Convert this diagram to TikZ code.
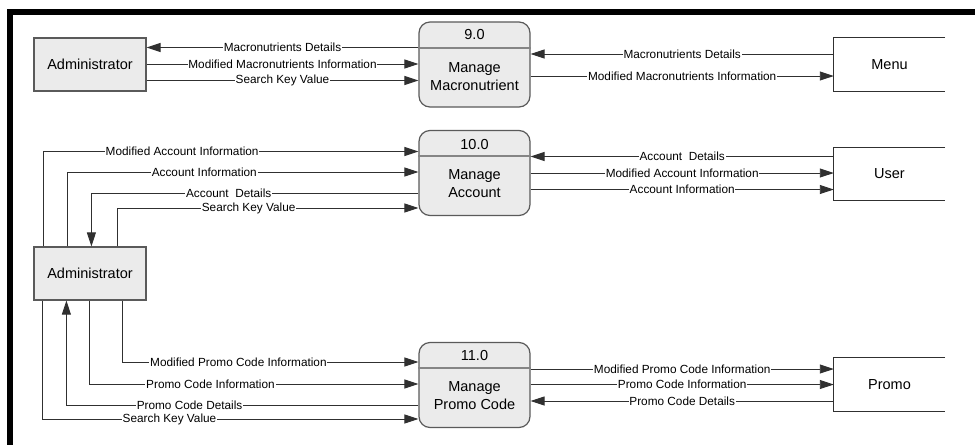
\documentclass[tikz,border=0pt]{standalone}
\usepackage{fontspec}
\setmainfont{Liberation Sans}
\usetikzlibrary{arrows.meta}
\definecolor{boxfill}{HTML}{EBEBEB}
\definecolor{boxline}{HTML}{5A5A5A}
\definecolor{flowline}{HTML}{303030}
\definecolor{divline}{HTML}{858585}
\begin{document}
\begin{tikzpicture}[x=1pt,y=-1pt,
  lbl/.style={fill=white, inner sep=0.8pt, font=\fontsize{11.8}{14}\selectfont, text=black},
  flow/.style={draw=flowline, line width=0.9pt, -{Triangle[length=14pt,width=9pt]}},
  extbox/.style={draw=boxline, fill=boxfill, line width=1.2pt, minimum width=112pt, minimum height=53pt, font=\fontsize{14.5}{18}\selectfont, inner sep=0pt},
  proc/.style={draw=boxline, fill=boxfill, line width=1.2pt, rounded corners=11pt, minimum width=111pt, minimum height=85pt, inner sep=0pt},
  proctext/.style={font=\fontsize{14.5}{18}\selectfont, align=center, inner sep=0pt},
  store/.style={minimum width=111pt, minimum height=53pt, font=\fontsize{14.5}{18}\selectfont, inner sep=0pt},
  storeline/.style={draw=flowline, line width=1.2pt},
  divider/.style={draw=divline, line width=1.8pt}]
\useasboundingbox (0,0) rectangle (975,445);
\fill[white] (0,0) rectangle (975,445);
% frame
\fill[black] (7,9) rectangle (975,15);
\fill[black] (7,9) rectangle (13,445);

% entities
\node[extbox] (admA) at (90,64.5) {Administrator};
\node[extbox] (admB) at (90,273.5) {Administrator};

% processes
\node[proc] (p9) at (474.5,64.5) {};
\node[proc] (p10) at (474.5,173) {};
\node[proc] (p11) at (474.5,385) {};
\draw[divider] (p9.west |- 0,48) -- (p9.east |- 0,48);
\draw[divider] (p10.west |- 0,156) -- (p10.east |- 0,156);
\draw[divider] (p11.west |- 0,368) -- (p11.east |- 0,368);
\node[proctext] (p9id) at (474.5,35) {9.0};
\node[proctext] (p9name) at (474.5,77) {Manage\\Macronutrient};
\node[proctext] (p10id) at (474.5,145) {10.0};
\node[proctext] (p10name) at (474.5,184) {Manage\\Account};
\node[proctext] (p11id) at (474.5,356) {11.0};
\node[proctext] (p11name) at (474.5,396) {Manage\\Promo Code};

% data stores
\node[store] (menu) at (889.5,64.5) {Menu};
\node[store] (user) at (889.5,174) {User};
\node[store] (promo) at (889.5,384.5) {Promo};
\draw[storeline] (menu.north east) -- (menu.north west) -- (menu.south west) -- (menu.south east);
\draw[storeline] (user.north east) -- (user.north west) -- (user.south west) -- (user.south east);
\draw[storeline] (promo.north east) -- (promo.north west) -- (promo.south west) -- (promo.south east);

% top flows
\draw[flow] (p9.west |- 0,47.5) -- node[lbl]{Macronutrients Details} (admA.east |- 0,47.5);
\draw[flow] (admA.east |- 0,64) -- node[lbl]{Modified Macronutrients Information} (p9.west |- 0,64);
\draw[flow] (admA.east |- 0,80.5) -- node[lbl]{Search Key Value} (p9.west |- 0,80.5);
\draw[flow] (menu.west |- 0,54) -- node[lbl]{Macronutrients Details} (p9.east |- 0,54);
\draw[flow] (p9.east |- 0,76) -- node[lbl]{Modified Macronutrients Information} (menu.west |- 0,76);

% middle flows
\draw[flow] ([xshift=10pt]admB.north west) |- node[lbl,pos=0.685]{Modified Account Information} (p10.west |- 0,151.5);
\draw[flow] ([xshift=34pt]admB.north west) |- node[lbl,pos=0.695]{Account Information} (p10.west |- 0,172);
\draw[flow] (p10.west |- 0,193) -| node[lbl,pos=0.29]{Account\ \ Details} ([xshift=58pt]admB.north west);
\draw[flow] ([xshift=84pt]admB.north west) |- node[lbl,pos=0.718]{Search Key Value} (p10.west |- 0,208);
\draw[flow] (user.west |- 0,156.5) -- node[lbl]{Account\ \ Details} (p10.east |- 0,156.5);
\draw[flow] (p10.east |- 0,173) -- node[lbl]{Modified Account Information} (user.west |- 0,173);
\draw[flow] (p10.east |- 0,189.5) -- node[lbl]{Account Information} (user.west |- 0,189.5);

% bottom flows
\draw[flow] ([xshift=89pt]admB.south west) |- node[lbl,pos=0.696]{Modified Promo Code Information} (p11.west |- 0,362);
\draw[flow] ([xshift=56pt]admB.south west) |- node[lbl,pos=0.684]{Promo Code Information} (p11.west |- 0,384);
\draw[flow] (p11.west |- 0,405) -| node[lbl,pos=0.325]{Promo Code Details} ([xshift=33pt]admB.south west);
\draw[flow] ([xshift=9pt]admB.south west) |- node[lbl,pos=0.669]{Search Key Value} (p11.west |- 0,419);
\draw[flow] (p11.east |- 0,369) -- node[lbl]{Modified Promo Code Information} (promo.west |- 0,369);
\draw[flow] (p11.east |- 0,384.5) -- node[lbl]{Promo Code Information} (promo.west |- 0,384.5);
\draw[flow] (promo.west |- 0,401) -- node[lbl]{Promo Code Details} (p11.east |- 0,401);
\end{tikzpicture}
\end{document}
